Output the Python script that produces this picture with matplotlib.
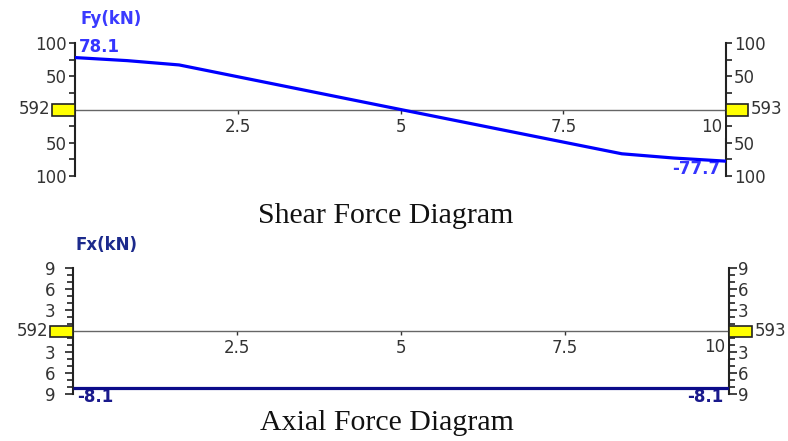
import numpy as np
import matplotlib
matplotlib.use("Agg")
import matplotlib.pyplot as plt
from matplotlib.patches import Rectangle
from matplotlib.transforms import ScaledTranslation
from matplotlib.ticker import MultipleLocator, FuncFormatter

# Shear force along the member (kN)
shear_x = [0.0, 0.8, 1.6, 5.0, 8.4, 9.2, 10.0]
shear_v = [78.1, 73.5, 67.0, 0.0, -66.6, -73.0, -77.7]

# Axial force along the member (kN)
axial_x = [0.0, 10.0]
axial_v = [-8.1, -8.1]

x_ticks = [2.5, 5, 7.5]
node_start, node_end = "592", "593"

W, H = 788, 441
TICK_COLOR = "#333333"
FS = 12


def box(l, t, r, b):
    return [l / W, 1 - b / H, (r - l) / W, (b - t) / H]


def absFormatter(v, pos):
    if abs(v) < 1e-9:
        return ""
    return "%g" % abs(v)


def setupPanel(ax, ylim, major, minor, lpad, rpad, majlen, minlen):
    ax.set_xlim(0, 10)
    ax.set_ylim(-ylim, ylim)
    ax.spines["top"].set_visible(False)
    for s in ["left", "right"]:
        ax.spines[s].set_linewidth(1.5)
        ax.spines[s].set_color("#222222")
    ax.spines["bottom"].set_position(("data", 0))
    ax.spines["bottom"].set_color("#666666")
    ax.spines["bottom"].set_linewidth(1.0)
    ax.set_xticks(x_ticks)
    ax.set_xticklabels([("%g" % t) for t in x_ticks])
    ax.tick_params(axis="x", direction="out", length=3, width=1, color="#333333",
                   labelsize=FS, labelcolor=TICK_COLOR, pad=3)
    ax.yaxis.set_major_locator(MultipleLocator(major))
    ax.yaxis.set_minor_locator(MultipleLocator(minor))
    ax.yaxis.set_major_formatter(FuncFormatter(absFormatter))
    ax.tick_params(axis="y", which="major", length=majlen, width=1.2, pad=lpad,
                   labelsize=FS, labelcolor=TICK_COLOR, color="#222222")
    ax.tick_params(axis="y", which="minor", length=minlen, width=1.2, color="#222222")
    ax.patch.set_alpha(0)

    axr = ax.twinx()
    axr.set_ylim(-ylim, ylim)
    for s in axr.spines.values():
        s.set_visible(False)
    axr.yaxis.set_major_locator(MultipleLocator(major))
    axr.yaxis.set_minor_locator(MultipleLocator(minor))
    axr.yaxis.set_major_formatter(FuncFormatter(absFormatter))
    axr.tick_params(axis="y", which="major", length=majlen, width=1.2, pad=rpad,
                    labelsize=FS, labelcolor=TICK_COLOR, color="#222222")
    axr.tick_params(axis="y", which="minor", length=minlen, width=1.2, color="#222222")
    return axr


def nodeBoxes(ax, axr, wl, wr, h):
    origin = ScaledTranslation(0, 0, ax.transData)
    end = ScaledTranslation(10, 0, ax.transData)
    axr.add_patch(Rectangle((-wl, -h / 2), wl, h, transform=origin, facecolor="#ffff00",
                            edgecolor="#222222", linewidth=1.2, clip_on=False, zorder=10))
    axr.add_patch(Rectangle((0, -h / 2), wr, h, transform=end, facecolor="#ffff00",
                            edgecolor="#222222", linewidth=1.2, clip_on=False, zorder=10))
    axr.annotate(node_start, xy=(0, 0), xycoords=ax.transData, xytext=(-wl - 2, 0),
                 textcoords="offset pixels", ha="right", va="center", fontsize=FS,
                 color=TICK_COLOR, annotation_clip=False)
    axr.annotate(node_end, xy=(10, 0), xycoords=ax.transData, xytext=(wr + 3, 0),
                 textcoords="offset pixels", ha="left", va="center", fontsize=FS,
                 color=TICK_COLOR, annotation_clip=False)


fig = plt.figure(figsize=(W / 100, H / 100), dpi=100)

# Shear force panel
ax1 = fig.add_axes(box(75, 43, 726, 176))
ax1r = setupPanel(ax1, 100, 50, 25, 1.5, 1.5, 4.3, 4.3)
ax1.plot(shear_x, shear_v, color="#0000ff", linewidth=2.3, solid_capstyle="butt", zorder=4)
ax1.annotate("%.1f" % shear_v[0], xy=(shear_x[0], shear_v[0]), xytext=(4, 11),
             textcoords="offset pixels", ha="left", va="center", fontsize=FS,
             fontweight="bold", color="#3535ff", annotation_clip=False)
ax1.annotate("%.1f" % shear_v[-1], xy=(shear_x[-1], shear_v[-1]), xytext=(-6, -8),
             textcoords="offset pixels", ha="right", va="center", fontsize=FS,
             fontweight="bold", color="#3535ff", annotation_clip=False)
ax1.annotate("10", xy=(10, 0), xytext=(-4, -17), textcoords="offset pixels",
             ha="right", va="center", fontsize=FS, color=TICK_COLOR, zorder=6,
             bbox=dict(boxstyle="square,pad=0.15", fc="white", ec="none"))
nodeBoxes(ax1, ax1r, 23, 22, 12)
fig.text(111 / W, 1 - 19 / H, "Fy(kN)", ha="center", va="center", fontsize=12,
         fontweight="bold", color="#3a3aff")
fig.text(386 / W, 1 - 216 / H, "Shear Force Diagram", ha="center", va="center",
         fontsize=21.5, family="Liberation Serif", color="#111111")

# Axial force panel
ax2 = fig.add_axes(box(73, 268, 729, 394))
ax2r = setupPanel(ax2, 9, 3, 1, 7, 0.7, 5.8, 4.3)
ax2.plot(axial_x, axial_v, color="#0b0b8a", linewidth=2.3, solid_capstyle="butt", zorder=4)
ax2.annotate("%.1f" % axial_v[0], xy=(axial_x[0], axial_v[0]), xytext=(4, -9),
             textcoords="offset pixels", ha="left", va="center", fontsize=FS,
             fontweight="bold", color="#1a1a8c", annotation_clip=False)
ax2.annotate("%.1f" % axial_v[-1], xy=(axial_x[-1], axial_v[-1]), xytext=(-6, -9),
             textcoords="offset pixels", ha="right", va="center", fontsize=FS,
             fontweight="bold", color="#1a1a8c", annotation_clip=False)
ax2.annotate("10", xy=(10, 0), xytext=(-4, -16), textcoords="offset pixels",
             ha="right", va="center", fontsize=FS, color=TICK_COLOR, zorder=6,
             bbox=dict(boxstyle="square,pad=0.15", fc="white", ec="none"))
nodeBoxes(ax2, ax2r, 23, 23, 11)
fig.text(107 / W, 1 - 245 / H, "Fx(kN)", ha="center", va="center", fontsize=12,
         fontweight="bold", color="#1c2a8c")
fig.text(387 / W, 1 - 423 / H, "Axial Force Diagram", ha="center", va="center",
         fontsize=21.5, family="Liberation Serif", color="#111111")

fig.savefig("out.png", dpi=100)
